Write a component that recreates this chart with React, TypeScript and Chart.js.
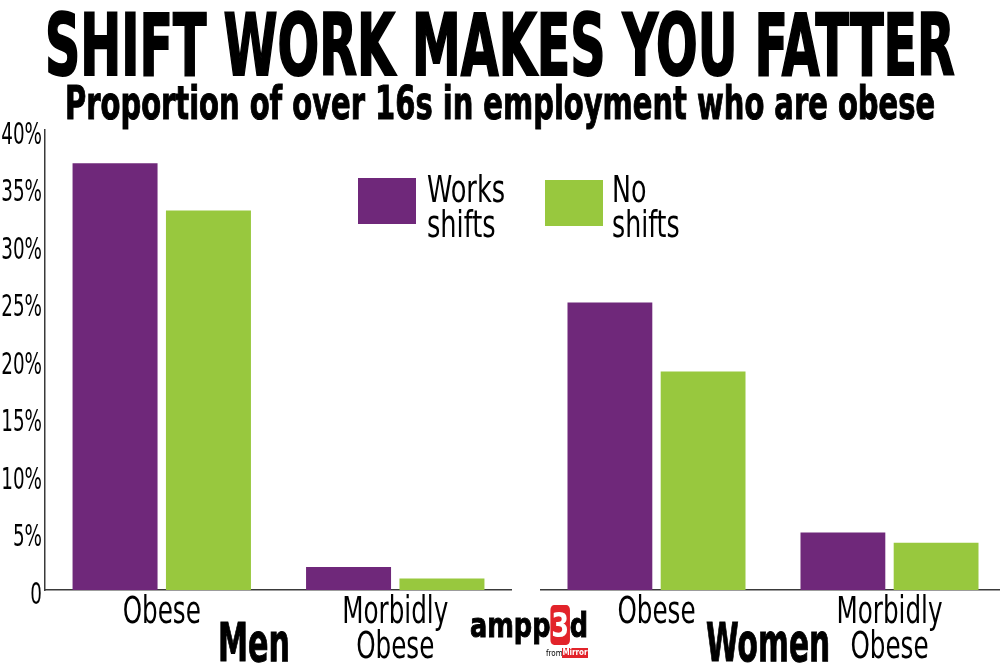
import React, { useEffect, useLayoutEffect, useRef } from 'react';
import { Chart, registerables } from 'chart.js';

Chart.register(...registerables);

// ---- data ----
const titleText = 'SHIFT WORK MAKES YOU FATTER';
const subtitleText = 'Proportion of over 16s in employment who are obese';
const panelNames = ['Men', 'Women'];
const categories = [['Obese'], ['Morbidly', 'Obese']];
const seriesNames = [['Works', 'shifts'], ['No', 'shifts']];
const menWorksShifts = [37.1, 2.0];
const menNoShifts = [33.0, 1.0];
const womenWorksShifts = [25.0, 5.0];
const womenNoShifts = [19.0, 4.1];
const yTickValues = [0, 5, 10, 15, 20, 25, 30, 35, 40];
const yTickLabels = ['0', '5%', '10%', '15%', '20%', '25%', '30%', '35%', '40%'];

// ---- style ----
const PURPLE = '#6f287a';
const GREEN = '#98c83e';
const AXIS = '#3a3a3a';
const NARROW = '"Liberation Sans Narrow", "DejaVu Sans Condensed", "Liberation Sans", sans-serif';

// Condense tick label text horizontally (font styling only): the library still draws the labels,
// we just pass a maxWidth to fillText so the glyphs render narrower.
const condenseFactors: Record<string, number> = { x: 0.74, y: 0.68 };
const condensePlugin = {
  id: 'condenseTicks',
  beforeDraw(chart: any) {
    for (const id of Object.keys(chart.scales)) {
      const s = chart.scales[id];
      if (s.__condensed) continue;
      const factor = condenseFactors[id] ?? 1;
      const orig = s.drawLabels.bind(s);
      s.drawLabels = (area: any) => {
        const ctx = s.ctx as CanvasRenderingContext2D;
        const proto = Object.getPrototypeOf(ctx);
        const baseFill = proto.fillText;
        (ctx as any).fillText = function (t: string, x: number, y: number) {
          return baseFill.call(this, t, x, y, this.measureText(t).width * factor);
        };
        try {
          orig(area);
        } finally {
          delete (ctx as any).fillText;
        }
      };
      s.__condensed = true;
    }
  },
};

type StretchProps = {
  left: number;
  top: number;
  width: number;
  size: number;
  weight?: number;
  lineHeight?: number;
  family?: string;
  color?: string;
  stroke?: number;
  children: React.ReactNode;
};

function Stretch({ left, top, width, size, weight = 400, lineHeight, family = NARROW, color = '#000', stroke = 0, children }: StretchProps) {
  const ref = useRef<HTMLDivElement>(null);
  useLayoutEffect(() => {
    const el = ref.current;
    if (!el) return;
    el.style.transform = 'none';
    const w = el.offsetWidth;
    if (w > 0) el.style.transform = `scaleX(${width / w})`;
  }, [width]);
  return (
    <div
      ref={ref}
      style={{
        position: 'absolute',
        left,
        top,
        fontFamily: family,
        fontSize: size,
        fontWeight: weight,
        lineHeight: lineHeight ? `${lineHeight}px` : 1,
        whiteSpace: 'pre',
        transformOrigin: '0 0',
        color,
        WebkitTextStroke: stroke ? `${stroke}px ${color}` : undefined,
      }}
    >
      {children}
    </div>
  );
}

type PanelProps = {
  left: number;
  width: number;
  works: number[];
  none: number[];
  showY: boolean;
};

function BarPanel({ left, width, works, none, showY }: PanelProps) {
  const ref = useRef<HTMLCanvasElement>(null);
  useEffect(() => {
    if (!ref.current) return;
    const yScale: any = {
      display: showY,
      min: 0,
      max: 40,
      afterBuildTicks: (s: any) => {
        s.ticks = yTickValues.map((v) => ({ value: v }));
      },
      grid: { display: false, drawTicks: false },
      border: { display: true, color: AXIS, width: 1.5 },
      ticks: {
        color: '#000',
        font: { family: NARROW, size: 30 },
        padding: 3,
        labelOffset: 6,
        callback: (_v: any, i: number) => yTickLabels[i],
      },
    };
    if (showY) {
      yScale.afterFit = (s: any) => {
        s.width = 45;
      };
    }
    const chart = new Chart(ref.current, {
      type: 'bar',
      data: {
        labels: categories,
        datasets: [
          {
            label: seriesNames[0].join(' '),
            data: works,
            backgroundColor: PURPLE,
            borderWidth: 0,
            categoryPercentage: 0.8,
            barPercentage: 0.91,
          },
          {
            label: seriesNames[1].join(' '),
            data: none,
            backgroundColor: GREEN,
            borderWidth: 0,
            categoryPercentage: 0.8,
            barPercentage: 0.91,
          },
        ],
      },
      options: {
        animation: false,
        responsive: true,
        maintainAspectRatio: false,
        layout: { padding: { top: 30, left: 0, right: 0, bottom: 0 } },
        plugins: {
          legend: { display: false },
          tooltip: { enabled: false },
          title: { display: false },
        },
        scales: {
          x: {
            grid: { display: false, drawTicks: false },
            border: { display: true, color: AXIS, width: 1.5 },
            ticks: {
              color: '#000',
              font: { family: NARROW, size: 37, lineHeight: 0.95 },
              padding: 6,
              maxRotation: 0,
              autoSkip: false,
            },
            afterFit: (s: any) => {
              s.height = 77;
            },
          },
          y: yScale,
        },
      },
      plugins: [condensePlugin],
    });
    return () => chart.destroy();
  }, []);
  return (
    <div style={{ position: 'absolute', left, top: 100, width, height: 567 }}>
      <canvas ref={ref} />
    </div>
  );
}

export default function App() {
  return (
    <div
      style={{
        position: 'absolute',
        left: 0,
        top: 0,
        width: 1000,
        height: 667,
        overflow: 'hidden',
        background: '#fff',
      }}
    >
      <BarPanel left={0} width={512} works={menWorksShifts} none={menNoShifts} showY={true} />
      <BarPanel left={540} width={466} works={womenWorksShifts} none={womenNoShifts} showY={false} />

      <Stretch left={45} top={3} width={910} size={85} weight={700} stroke={2}>
        {titleText}
      </Stretch>
      <Stretch left={65} top={80} width={870} size={46} weight={700} stroke={1}>
        {subtitleText}
      </Stretch>

      {/* legend */}
      <div style={{ position: 'absolute', left: 358, top: 178, width: 58, height: 46, background: PURPLE }} />
      <Stretch left={427} top={172} width={78} size={38} lineHeight={35}>
        {seriesNames[0].join('\n')}
      </Stretch>
      <div style={{ position: 'absolute', left: 545, top: 180, width: 58, height: 46, background: GREEN }} />
      <Stretch left={612} top={172} width={68} size={38} lineHeight={35}>
        {seriesNames[1].join('\n')}
      </Stretch>

      {/* panel names */}
      <Stretch left={218} top={616} width={72} size={54} weight={700} stroke={1}>
        {panelNames[0]}
      </Stretch>
      <Stretch left={706} top={616} width={124} size={54} weight={700} stroke={1}>
        {panelNames[1]}
      </Stretch>

      {/* logo */}
      <Stretch left={470} top={608} width={118} size={34} weight={900} stroke={1} family={'"DejaVu Sans", sans-serif'}>
        ampp
        <span style={{ background: '#e2232a', color: '#fff', WebkitTextStroke: '0px', borderRadius: 5, padding: '0 1px' }}>3</span>d
      </Stretch>
      <div
        style={{
          position: 'absolute',
          left: 546,
          top: 649,
          fontFamily: NARROW,
          fontSize: 8,
          lineHeight: '10px',
          color: '#000',
        }}
      >
        from
      </div>
      <div
        style={{
          position: 'absolute',
          left: 562,
          top: 648,
          width: 26,
          height: 10,
          background: '#e2232a',
          color: '#fff',
          fontFamily: NARROW,
          fontSize: 8,
          fontWeight: 700,
          lineHeight: '10px',
          textAlign: 'center',
        }}
      >
        Mirror
      </div>
    </div>
  );
}
